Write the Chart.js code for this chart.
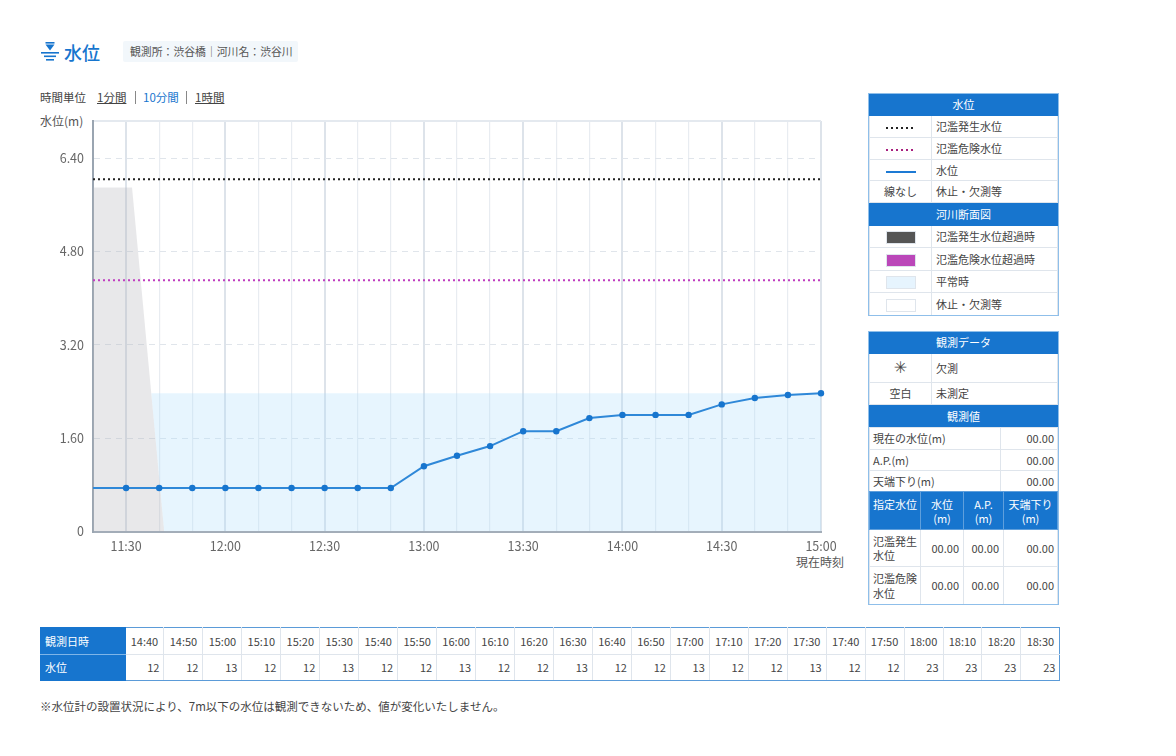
<!DOCTYPE html>
<html lang="ja"><head><meta charset="utf-8">
<script src="https://cdn.jsdelivr.net/npm/chart.js@4"></script>
<style>
html,body{margin:0;padding:0;background:#fff}
body{width:1176px;height:756px;position:relative;overflow:hidden;font-family:"Noto Sans CJK JP","Noto Sans",sans-serif;color:#444;font-size:11px}
.a{position:absolute;white-space:nowrap;line-height:1}
canvas{position:absolute;left:0;top:100px}
table{position:absolute;border-collapse:collapse;table-layout:fixed;font-size:11px;color:#444;line-height:1.3}
td,th{padding:0;border:1px solid #dfe5ec;font-weight:400;overflow:hidden}
.box{position:absolute;left:868px;width:191px;box-sizing:border-box;border:1px solid #8fbfea;overflow:hidden}
.box table{position:static;width:189px}
.h{background:#1775ce;color:#fff;text-align:center;border-color:#1775ce}
.l{padding-left:4px;text-align:left}
.n{text-align:right;padding-right:4px}
.n2{text-align:right;padding-right:3px}
.c{text-align:center}
.sw{display:inline-block;width:30px;height:13px;box-sizing:border-box;vertical-align:middle;border:1px solid #dfe5ec}
.dots{display:inline-block;width:30px;height:2px;vertical-align:middle}
.th2{background:#1775ce;color:#fff;text-align:center;border-color:#5f9fdc;vertical-align:top;padding-top:5px}
#obs tr:first-child td{border-top-color:#5b9bd8}
#obs tr:last-child td{border-bottom-color:#5b9bd8}
#obs td:last-child{border-right-color:#5b9bd8}
</style></head><body>
<svg class="a" style="left:41px;top:41px" width="18" height="21" viewBox="0 0 18 21"><rect x="4.5" y="1" width="9" height="1.6" fill="#1775ce"/><path d="M4.5 3.6H13.5L9 9.6z" fill="#1775ce"/><rect x="0" y="11" width="18" height="1.6" fill="#1775ce"/><rect x="3" y="14.5" width="12" height="1.6" fill="#1775ce"/><rect x="5" y="18" width="8" height="1.6" fill="#1775ce"/></svg>
<div class="a" style="left:64px;top:43px;font-size:18px;font-weight:500;color:#1775ce">水位</div>
<div class="a" style="left:123px;top:41px;width:175px;height:21px;background:#f2f7fb;border-radius:2px;line-height:21px;text-indent:7px;font-size:10.85px;color:#555">観測所：渋谷橋｜河川名：渋谷川</div>
<div class="a" style="left:40px;top:92px;font-size:11.5px">時間単位</div>
<div class="a" style="left:97px;top:92px;font-size:11.5px;text-decoration:underline">1分間</div>
<div class="a" style="left:135px;top:91px;width:1px;height:13px;background:#888"></div>
<div class="a" style="left:143px;top:92px;font-size:11.5px;color:#1775ce">10分間</div>
<div class="a" style="left:186px;top:91px;width:1px;height:13px;background:#888"></div>
<div class="a" style="left:195px;top:92px;font-size:11.5px;text-decoration:underline">1時間</div>
<div class="a" style="left:40px;top:115px;font-size:12px;color:#555">水位(m)</div>
<div class="a" style="left:796px;top:556px;font-size:12px;color:#555">現在時刻</div>
<canvas id="c" width="860" height="500" style="width:860px;height:500px"></canvas>

<div class="box" style="top:93px;height:223px">
<table style="margin-top:-1px"><colgroup><col style="width:62px"><col></colgroup>
<tr style="height:22px"><th class="h" colspan="2">水位</th></tr>
<tr style="height:22px"><td class="c"><span class="dots" style="background:repeating-linear-gradient(90deg,#222 0 2px,transparent 2px 5px)"></span></td><td class="l">氾濫発生水位</td></tr>
<tr style="height:22px"><td class="c"><span class="dots" style="background:repeating-linear-gradient(90deg,#a8207e 0 2px,transparent 2px 5px)"></span></td><td class="l">氾濫危険水位</td></tr>
<tr style="height:21px"><td class="c"><span class="dots" style="background:#1d7ad4"></span></td><td class="l">水位</td></tr>
<tr style="height:22px"><td class="c">線なし</td><td class="l">休止・欠測等</td></tr>
<tr style="height:23px"><th class="h" colspan="2">河川断面図</th></tr>
<tr style="height:22px"><td class="c"><span class="sw" style="background:#555"></span></td><td class="l">氾濫発生水位超過時</td></tr>
<tr style="height:23px"><td class="c"><span class="sw" style="background:#bb47b9"></span></td><td class="l">氾濫危険水位超過時</td></tr>
<tr style="height:22px"><td class="c"><span class="sw" style="background:#e6f4fe"></span></td><td class="l">平常時</td></tr>
<tr style="height:23px"><td class="c"><span class="sw" style="background:#fff"></span></td><td class="l">休止・欠測等</td></tr>
</table></div>

<div class="box" style="top:331px;height:274px">
<table style="margin-top:-1px"><colgroup><col style="width:62px"><col></colgroup>
<tr style="height:22px"><th class="h" colspan="2">観測データ</th></tr>
<tr style="height:29px"><td class="c" style="font-size:16px;font-family:'DejaVu Sans'">✳</td><td class="l">欠測</td></tr>
<tr style="height:22px"><td class="c">空白</td><td class="l">未測定</td></tr>
<tr style="height:23px"><th class="h" colspan="2">観測値</th></tr>
</table>
<table style="margin-top:-1px"><colgroup><col style="width:131px"><col></colgroup>
<tr style="height:22px"><td class="l" style="padding-left:3px">現在の水位(m)</td><td class="n2">00.00</td></tr>
<tr style="height:21px"><td class="l" style="padding-left:3px">A.P.(m)</td><td class="n2">00.00</td></tr>
<tr style="height:21px"><td class="l" style="padding-left:3px">天端下り(m)</td><td class="n2">00.00</td></tr>
</table>
<table style="margin-top:-1px"><colgroup><col style="width:51px"><col style="width:43px"><col style="width:40px"><col></colgroup>
<tr style="height:38px"><th class="th2">指定水位</th><th class="th2">水位<br>(m)</th><th class="th2">A.P.<br>(m)</th><th class="th2">天端下り<br>(m)</th></tr>
<tr style="height:37px"><td class="l" style="padding-left:3px">氾濫発生<br>水位</td><td class="n">00.00</td><td class="n">00.00</td><td class="n2">00.00</td></tr>
<tr style="height:38px"><td class="l" style="padding-left:3px">氾濫危険<br>水位</td><td class="n">00.00</td><td class="n">00.00</td><td class="n2">00.00</td></tr>
</table></div>

<div id="obs"></div>
<div class="a" style="left:40px;top:701px;font-size:11.5px">※水位計の設置状況により、7m以下の水位は観測できないため、値が変化いたしません。</div>

<script>
const timeLabels=["11:20","11:30","11:40","11:50","12:00","12:10","12:20","12:30","12:40","12:50","13:00","13:10","13:20","13:30","13:40","13:50","14:00","14:10","14:20","14:30","14:40","14:50","15:00"];
const waterLevel=[0.745,0.745,0.745,0.745,0.745,0.745,0.745,0.745,0.745,0.745,1.12,1.30,1.465,1.72,1.72,1.945,2.0,2.0,2.0,2.18,2.29,2.34,2.37];
const floodLevel=6.04;
const dangerLevel=4.31;
const yLabels=[0,1.6,3.2,4.8,6.4];
const yMax=7.04;
const bankLeftX=["11:20","11:31.8","11:41.5"];
const bankLeftY=[5.9,5.9,0];
const normalTopX=["11:37.6","15:00"];
const normalTopY=[2.37,2.37];
const normalBottomX=["11:37.6","11:41.5","15:00"];
const normalBottomY=[2.37,0,0];
const obsTimes=["14:40","14:50","15:00","15:10","15:20","15:30","15:40","15:50","16:00","16:10","16:20","16:30","16:40","16:50","17:00","17:10","17:20","17:30","17:40","17:50","18:00","18:10","18:20","18:30"];
const obsValues=[12,12,13,12,12,13,12,12,13,12,12,13,12,12,13,12,12,13,12,12,23,23,23,23];

const toMin=t=>{const[h,m]=t.split(":");return +h*60+ +m};
const pts=(xs,ys)=>xs.map((t,i)=>({x:toMin(t),y:ys[i]}));
const xMin=toMin(timeLabels[0]),xMax=toMin(timeLabels[timeLabels.length-1]);
const flat=v=>[{x:xMin,y:v},{x:xMax,y:v}];
const fmtTime=m=>Math.floor(m/60)+":"+String(m%60).padStart(2,"0");
const tickFont={family:'"Noto Sans CJK JP","Noto Sans",sans-serif',size:12.5};

new Chart(document.getElementById("c"),{
 type:"line",
 data:{datasets:[
  {label:"水位",data:pts(timeLabels,waterLevel),borderColor:"#2f88d8",borderWidth:2,pointBackgroundColor:"#1775ce",pointBorderWidth:0,pointRadius:timeLabels.map((_,i)=>i===0?0:3.2),order:1,tension:0,clip:false},
  {label:"氾濫発生水位",data:flat(floodLevel),borderColor:"#222",borderWidth:2,borderDash:[2,3],pointRadius:0,order:2},
  {label:"氾濫危険水位",data:flat(dangerLevel),borderColor:"#c03cc0",borderWidth:2,borderDash:[2,3],pointRadius:0,order:3},
  {label:"河川断面",data:pts(bankLeftX,bankLeftY),borderWidth:0,pointRadius:0,fill:"origin",backgroundColor:"rgba(180,180,186,0.3)",order:4},
  {label:"平常時",data:pts(normalTopX,normalTopY),borderWidth:0,pointRadius:0,fill:"+1",backgroundColor:"rgba(176,222,252,0.3)",order:5},
  {label:"平常時下端",data:pts(normalBottomX,normalBottomY),borderWidth:0,pointRadius:0,fill:false,order:6}
 ]},
 options:{responsive:false,animation:false,
  layout:{padding:{top:21,right:39,bottom:0,left:0}},
  plugins:{legend:{display:false},tooltip:{enabled:false}},
  scales:{
   x:{type:"linear",min:xMin,max:xMax,
    afterFit(s){s.height=68.5},
    ticks:{stepSize:10,autoSkip:false,maxRotation:0,padding:7,color:"#666",font:tickFont,
     callback:v=>v%30===0?fmtTime(v):""},
    grid:{drawTicks:false,
     color:c=>{const v=c.tick.value;return v===xMin?"#9aa5b1":(v%30===0||v===xMax?"#dde3ea":"#e8ecf1")},
     lineWidth:c=>{const v=c.tick.value;return (v%30===0||v===xMin||v===xMax)?2:1.2}},
    border:{display:true,color:"#a3adb8",width:2}},
   y:{min:0,max:yMax,
    afterFit(s){s.width=93},
    afterBuildTicks(s){s.ticks=yLabels.concat(yMax).map(v=>({value:v}))},
    ticks:{padding:9,color:"#666",font:tickFont,autoSkip:false,
     callback:v=>v===0?"0":(v===yMax?"":v.toFixed(2))},
    grid:{drawTicks:false,
     color:c=>c.tick.value===0?"#a3adb8":(c.tick.value===yMax?"#e4e9ef":"#e0e5eb"),
     lineWidth:c=>c.tick.value===0?2:(c.tick.value===yMax?2:1)},
    border:{display:true,color:"#9aa5b1",width:2,dash:c=>(c.tick&&(c.tick.value===yMax||c.tick.value===0))?[]:[6,5]}}
  }}
});

const W=38.96;
let h='<table style="left:40px;top:627px;width:1019.5px"><colgroup><col style="width:84.5px">'+obsTimes.map(()=>`<col style="width:${W}px">`).join("")+'</colgroup>';
h+='<tr style="height:27px"><th class="h" style="text-align:left;padding-left:4px;border-bottom-color:#7fb5e8">観測日時</th>'+obsTimes.map(t=>`<td class="c">${t}</td>`).join("")+'</tr>';
h+='<tr style="height:26px"><th class="h" style="text-align:left;padding-left:4px">水位</th>'+obsValues.map(v=>`<td class="n">${v}</td>`).join("")+'</tr></table>';
document.getElementById("obs").innerHTML=h;
</script>
</body></html>
